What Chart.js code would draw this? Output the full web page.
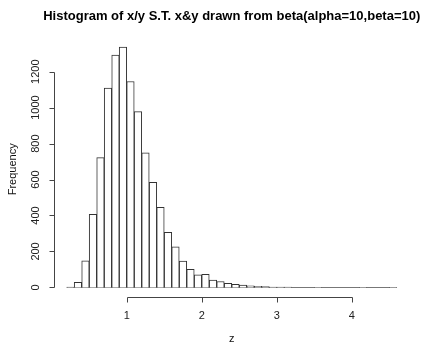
<!DOCTYPE html>
<html>
<head>
<meta charset="utf-8">
<script src="https://cdn.jsdelivr.net/npm/chart.js@4/dist/chart.umd.min.js"></script>
<style>
  html, body { margin: 0; padding: 0; background: #ffffff; }
  canvas { display: block; }
</style>
</head>
<body>
<canvas id="histChart" width="424" height="345"></canvas>
<script>
// Datos del histograma
const binMids = [
    0.25, 0.35, 0.45, 0.55, 0.65, 0.75, 0.85, 0.95, 1.05, 1.15,
    1.25, 1.35, 1.45, 1.55, 1.65, 1.75, 1.85, 1.95, 2.05, 2.15,
    2.25, 2.35, 2.45, 2.55, 2.65, 2.75, 2.85, 2.95, 3.05, 3.15,
    3.25, 3.35, 3.45, 3.55, 3.65, 3.75, 3.85, 3.95, 4.05, 4.15,
    4.25, 4.35, 4.45, 4.55
];
const counts = [
    2, 28, 148, 406, 722, 1108, 1292, 1336, 1145, 978,
    748, 585, 445, 306, 226, 146, 100, 70, 72, 41,
    33, 22, 17, 13, 9, 6, 4, 2, 2, 2,
    0, 0, 0, 1, 0, 0, 0, 0, 0, 1,
    0, 0, 0, 1
];
const binEdges = [0.2, 4.6];
const xTicks = [1, 2, 3, 4];
const yTicks = [0, 200, 400, 600, 800, 1000, 1200];

const titleText = 'Histogram of x/y S.T. x&y drawn from beta(alpha=10,beta=10)';
const xLabel = 'z';
const yLabel = 'Frequency';

const FONT = "'Liberation Sans', Arial, sans-serif";

// Ejes al estilo R (dibujados con las escalas de Chart.js)
const rAxes = {
    id: 'rAxes',
    beforeDatasetsDraw(chart) {
        const { ctx, scales: { x, y } } = chart;
        const y0 = Math.round(y.getPixelForValue(0)) + 0.5;
        ctx.save();
        ctx.strokeStyle = '#777777';
        ctx.lineWidth = 1;
        ctx.beginPath();
        ctx.moveTo(x.getPixelForValue(binEdges[0]), y0);
        ctx.lineTo(x.getPixelForValue(binEdges[1]), y0);
        ctx.stroke();
        ctx.restore();
    },
    afterDraw(chart) {
        const { ctx, chartArea, scales: { x, y } } = chart;
        ctx.save();
        ctx.strokeStyle = '#444444';
        ctx.lineWidth = 1;

        // Eje X
        const axY = Math.round(chartArea.bottom) + 0.5;
        ctx.beginPath();
        ctx.moveTo(Math.round(x.getPixelForValue(xTicks[0])) + 0.5, axY);
        ctx.lineTo(Math.round(x.getPixelForValue(xTicks[xTicks.length - 1])) + 0.5, axY);
        xTicks.forEach(v => {
            const px = Math.round(x.getPixelForValue(v)) + 0.5;
            ctx.moveTo(px, axY);
            ctx.lineTo(px, axY + 5);
        });
        ctx.stroke();

        ctx.fillStyle = '#222222';
        ctx.font = '11px ' + FONT;
        ctx.textAlign = 'center';
        ctx.textBaseline = 'middle';
        xTicks.forEach(v => {
            ctx.fillText(String(v), x.getPixelForValue(v), 316);
        });

        // Eje Y
        const axX = Math.round(chartArea.left) + 0.5;
        ctx.beginPath();
        ctx.moveTo(axX, Math.round(y.getPixelForValue(yTicks[0])) + 0.5);
        ctx.lineTo(axX, Math.round(y.getPixelForValue(yTicks[yTicks.length - 1])) + 0.5);
        yTicks.forEach(v => {
            const py = Math.round(y.getPixelForValue(v)) + 0.5;
            ctx.moveTo(axX, py);
            ctx.lineTo(axX - 5, py);
        });
        ctx.stroke();

        yTicks.forEach(v => {
            ctx.save();
            ctx.translate(36, y.getPixelForValue(v));
            ctx.rotate(-Math.PI / 2);
            ctx.fillText(String(v), 0, 0);
            ctx.restore();
        });

        // Títulos
        const midX = (chartArea.left + chartArea.right) / 2;
        const midY = (chartArea.top + chartArea.bottom) / 2;
        ctx.fillStyle = '#111111';
        ctx.fillText(xLabel, midX, 339);

        ctx.save();
        ctx.translate(13, midY + 2);
        ctx.rotate(-Math.PI / 2);
        ctx.fillText(yLabel, 0, 0);
        ctx.restore();

        ctx.fillStyle = '#000000';
        ctx.font = 'bold 13px ' + FONT;
        ctx.textBaseline = 'alphabetic';
        ctx.fillText(titleText, midX, 19.5);

        ctx.restore();
    }
};

const bgWhite = {
    id: 'bgWhite',
    beforeDraw(chart) {
        const { ctx, width, height } = chart;
        ctx.save();
        ctx.fillStyle = '#ffffff';
        ctx.fillRect(0, 0, width, height);
        ctx.restore();
    }
};

new Chart(document.getElementById('histChart'), {
    type: 'bar',
    data: {
        datasets: [{
            label: yLabel,
            data: binMids.map((m, i) => ({ x: m, y: counts[i] })),
            backgroundColor: '#ffffff',
            borderColor: '#333333',
            borderWidth: 1,
            borderSkipped: 'bottom',
            barPercentage: 1,
            categoryPercentage: 1
        }]
    },
    options: {
        responsive: false,
        animation: false,
        events: [],
        layout: {
            padding: { left: 53.5, right: 14, top: 37.6, bottom: 48 }
        },
        plugins: {
            legend: { display: false },
            title: { display: false },
            tooltip: { enabled: false }
        },
        scales: {
            x: {
                type: 'linear',
                display: false,
                offset: false,
                min: 0.024,
                max: 4.776
            },
            y: {
                display: false,
                min: -53.4,
                max: 1389.4
            }
        }
    },
    plugins: [bgWhite, rAxes]
});
</script>
</body>
</html>
